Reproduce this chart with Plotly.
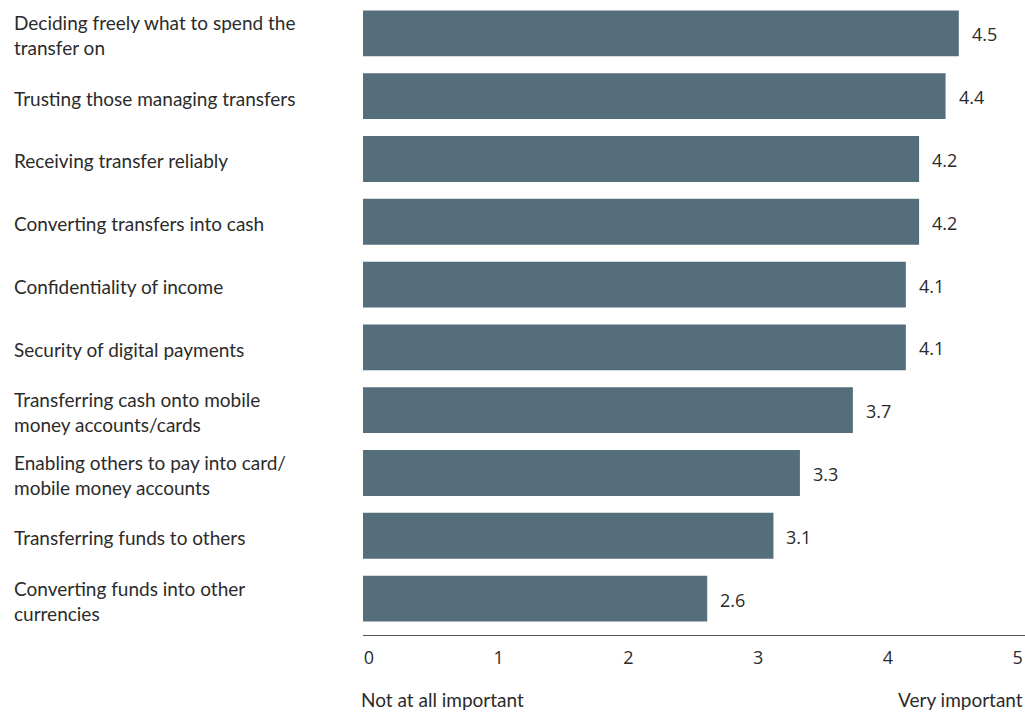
import plotly.graph_objects as go

categories = [
    "Deciding freely what to spend the<br>transfer on",
    "Trusting those managing transfers",
    "Receiving transfer reliably",
    "Converting transfers into cash",
    "Confidentiality of income",
    "Security of digital payments",
    "Transferring cash onto mobile<br>money accounts/cards",
    "Enabling others to pay into card/<br>mobile money accounts",
    "Transferring funds to others",
    "Converting funds into other<br>currencies",
]
values = [4.5, 4.4, 4.2, 4.2, 4.1, 4.1, 3.7, 3.3, 3.1, 2.6]
tick_vals = [0, 1, 2, 3, 4, 5]
tick_text = ["0", "1", "2", "3", "4", "5"]
scale_left = "Not at all important"
scale_right = "Very important"

BAR = "#546f7b"
TXT = "#2b2b2b"
FONT = "Lato, 'Open Sans', sans-serif"
NUMFONT = "'Open Sans', sans-serif"

fig = go.Figure()
fig.add_trace(go.Bar(
    x=values, y=categories, orientation="h",
    marker=dict(color=BAR, line=dict(width=0)),
    width=0.73, hoverinfo="skip",
))
# carrier for the labelled scale axis (no visible marks)
fig.add_trace(go.Scatter(
    x=tick_vals, y=[categories[-1]] * len(tick_vals), xaxis="x2", yaxis="y",
    mode="markers", marker=dict(opacity=0, size=1), hoverinfo="skip", showlegend=False,
))

annotations = []
for c, v in zip(categories, values):
    annotations.append(dict(
        x=v, y=c, xref="x", yref="y", text=f"{v:.1f}", showarrow=False,
        xanchor="left", xshift=11, yshift=-1,
        font=dict(family=NUMFONT, size=18, color=TXT),
    ))
    annotations.append(dict(
        x=-0.5305, y=c, xref="paper", yref="y", text=c, showarrow=False,
        xanchor="left", align="left", yshift=-2,
        font=dict(family=FONT, size=19, color=TXT),
    ))
annotations.append(dict(
    x=-0.006, y=-0.102, xref="paper", yref="paper", text=scale_left, showarrow=False,
    xanchor="left", yanchor="middle", font=dict(family=FONT, size=19, color=TXT),
))
annotations.append(dict(
    x=1.0, y=-0.102, xref="paper", yref="paper", text=scale_right, showarrow=False,
    xanchor="right", yanchor="middle", font=dict(family=FONT, size=19, color=TXT),
))

fig.update_layout(
    width=1025, height=712, autosize=False,
    margin=dict(l=363, r=0, t=2, b=77, pad=0, autoexpand=False),
    paper_bgcolor="white", plot_bgcolor="rgba(0,0,0,0)",
    showlegend=False,
    xaxis=dict(range=[0, 5], domain=[0, 1], showgrid=False, zeroline=False, showticklabels=False,
               showline=True, linecolor="#555555", linewidth=1, fixedrange=True),
    xaxis2=dict(visible=True, range=[0, 5], domain=[0.009, 0.989], anchor="y", side="bottom",
                tickvals=tick_vals, ticktext=tick_text, showgrid=False, zeroline=False,
                showline=False, ticks="outside", ticklen=6, tickcolor="rgba(0,0,0,0)",
                showticklabels=True,
                tickfont=dict(family=NUMFONT, size=18, color=TXT), fixedrange=True),
    yaxis=dict(range=[9.58, -0.5], showticklabels=False, showgrid=False, zeroline=False,
               showline=False, ticks="", fixedrange=True),
    annotations=annotations,
)

fig.write_html("out.html", config={"displayModeBar": False, "responsive": False},
               post_script="document.body.style.margin='0';")
